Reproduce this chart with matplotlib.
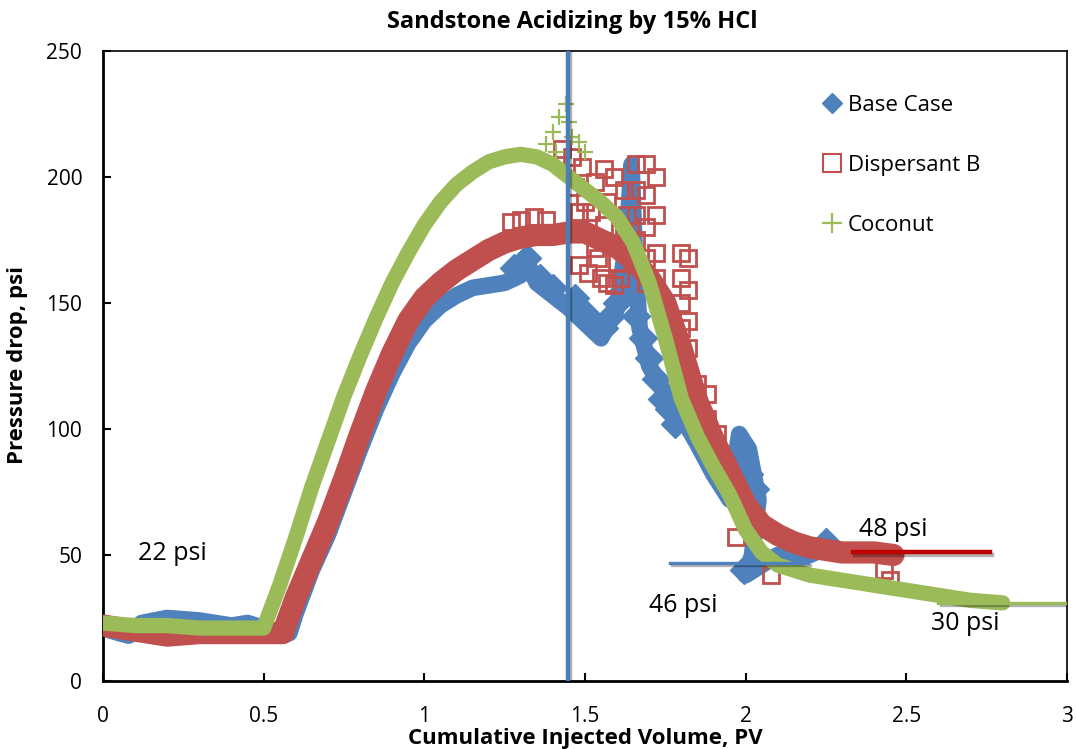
import matplotlib
matplotlib.use("Agg")
import matplotlib.pyplot as plt
import matplotlib.patheffects as pe
from matplotlib.lines import Line2D

# ---- data ----
base_x = [0.0, 0.05, 0.08, 0.12, 0.2, 0.3, 0.4, 0.45, 0.5, 0.54, 0.58, 0.6, 0.65, 0.7, 0.75,
          0.8, 0.85, 0.9, 0.95, 1.0, 1.05, 1.1, 1.15, 1.2, 1.25, 1.3, 1.32, 1.35, 1.4, 1.45,
          1.5, 1.55, 1.6, 1.63, 1.645, 1.655, 1.67, 1.7, 1.75, 1.8, 1.85, 1.9, 1.95, 1.98,
          2.01, 2.04, 2.02, 2.0, 2.05, 2.1, 2.15, 2.2, 2.25]
base_y = [21, 19, 18, 23, 25, 24, 22, 23, 21, 18, 19, 27, 44, 58, 75, 92, 108, 122, 134, 143,
          149, 153, 156, 157, 158, 161, 166, 158, 153, 148, 142, 136, 148, 175, 205, 170, 140,
          125, 114, 105, 94, 82, 72, 98, 92, 72, 50, 42, 46, 50, 49, 50, 53]

disp_x = [0.0, 0.05, 0.1, 0.2, 0.3, 0.4, 0.5, 0.56, 0.6, 0.65, 0.7, 0.75, 0.8, 0.85, 0.9,
          0.95, 1.0, 1.05, 1.1, 1.15, 1.2, 1.25, 1.3, 1.35, 1.4, 1.45, 1.5, 1.55, 1.6, 1.65,
          1.7, 1.75, 1.8, 1.85, 1.9, 1.95, 2.0, 2.05, 2.1, 2.15, 2.2, 2.3, 2.4, 2.46]
disp_y = [22, 21, 20, 18, 19, 19, 19, 19, 33, 48, 63, 80, 98, 115, 130, 143, 152, 158, 163,
          167, 171, 174, 176, 177, 177, 178, 178, 175, 172, 167, 160, 150, 132, 111, 96, 83,
          70, 62, 58, 55, 53, 51, 51, 50]

coco_x = [0.0, 0.1, 0.2, 0.3, 0.4, 0.5, 0.55, 0.6, 0.65, 0.7, 0.75, 0.8, 0.85, 0.9, 0.95,
          1.0, 1.05, 1.1, 1.15, 1.2, 1.25, 1.3, 1.35, 1.4, 1.45, 1.5, 1.55, 1.6, 1.65, 1.7,
          1.75, 1.8, 1.85, 1.9, 1.95, 2.0, 2.05, 2.1, 2.2, 2.3, 2.4, 2.5, 2.6, 2.7, 2.8]
coco_y = [23, 22, 22, 21, 21, 21, 38, 57, 77, 95, 113, 129, 144, 158, 170, 181, 190, 197,
          202, 206, 208, 209, 208, 205, 200, 195, 190, 184, 174, 158, 136, 112, 97, 85, 74,
          60, 51, 46, 42, 40, 38, 36, 34, 32, 31]

# scattered readings standing off the main bands
base_pt_x = [1.28, 1.32, 1.36, 1.40, 1.47, 1.50, 1.53, 1.56, 1.58, 1.60, 1.62, 1.66, 1.68,
             1.70, 1.72, 1.74, 1.76, 1.78, 1.99, 2.01, 2.03, 1.995, 2.25]
base_pt_y = [164, 168, 160, 156, 152, 146, 141, 140, 145, 150, 155, 145, 136, 128, 120, 112,
             108, 102, 88, 82, 76, 44, 55]
disp_sq_x = [1.27, 1.30, 1.34, 1.38, 1.43, 1.46, 1.49, 1.47, 1.48, 1.50, 1.51, 1.52, 1.53,
             1.54, 1.55, 1.56, 1.57, 1.58, 1.59, 1.60, 1.61, 1.62, 1.63, 1.48, 1.53, 1.57,
             1.56, 1.59, 1.62, 1.63, 1.66, 1.66, 1.66, 1.66, 1.69, 1.69, 1.69, 1.69, 1.69,
             1.72, 1.72, 1.72, 1.72, 1.80, 1.80, 1.80, 1.80, 1.82, 1.82, 1.82, 1.82, 1.82,
             1.85, 1.88, 1.88, 1.91, 1.97, 2.08, 2.43, 2.45]
disp_sq_y = [182, 183, 184, 183, 211, 208, 204, 196, 186, 190, 162, 186, 172, 168, 160, 181,
             158, 174, 157, 166, 160, 178, 170, 165, 198, 190, 203, 200, 195, 185, 205, 195,
             185, 175, 205, 193, 180, 168, 158, 200, 185, 170, 160, 170, 160, 150, 140, 168,
             155, 143, 132, 122, 118, 114, 104, 98, 57, 42, 44, 40]
coco_pl_x = [1.38, 1.40, 1.41, 1.42, 1.44, 1.45, 1.46, 1.48, 1.50]
coco_pl_y = [213, 218, 210, 224, 229, 222, 216, 214, 210]

# marker lines and notes on the chart
vline_x = 1.447
levels = [("46 psi", 1.765, 2.194, 47), ("48 psi", 2.334, 2.76, 51), ("30 psi", 2.6, 3.0, 31)]
notes = [("22 psi", 0.215, 50.5), ("46 psi", 1.805, 30), ("48 psi", 2.46, 60), ("30 psi", 2.683, 23)]

BLUE, RED, GREEN, DRED = "#4F81BD", "#C0504D", "#9BBB59", "#C00000"

plt.rcParams["font.family"] = ["Open Sans", "DejaVu Sans"]

fig = plt.figure(figsize=(10.76, 7.49), dpi=100)
ax = fig.add_axes([0.0957, 0.0908, 0.8959, 0.8411])

band = dict(solid_joinstyle="round", solid_capstyle="round")
ax.plot(base_x, base_y, color=BLUE, lw=12, zorder=2, **band)
ax.plot(base_pt_x, base_pt_y, ls="", marker="D", ms=14, color=BLUE, zorder=2.1)
ax.plot(disp_x, disp_y, color=RED, lw=16, zorder=3, **band)
ax.plot(disp_sq_x, disp_sq_y, ls="", marker="s", ms=11, mfc="none", mec=RED, mew=2.0, zorder=3.1)
ax.plot(coco_x, coco_y, color=GREEN, lw=11, zorder=4, **band)
ax.plot(coco_pl_x, coco_pl_y, ls="", marker="+", ms=12, mec=GREEN, mew=1.6, zorder=4.1)

shadow = [pe.SimpleLineShadow(offset=(1.5, -1.5), alpha=0.3), pe.Normal()]
ax.axvline(vline_x, color="#4A7EBB", lw=3.2, zorder=6, path_effects=shadow)
lcols = [BLUE, DRED, GREEN]
lwids = [2.4, 3.2, 2.4]
for (lab, x0, x1, y), c, w in zip(levels, lcols, lwids):
    ax.plot([x0, x1], [y, y], color=c, lw=w, zorder=5, path_effects=shadow)
for t, x, y in notes:
    ax.text(x, y, t, fontsize=18, ha="center", va="center", zorder=7)

ax.set_xlim(0, 3)
ax.set_ylim(0, 250)
ax.set_xticks([0, 0.5, 1, 1.5, 2, 2.5, 3])
ax.set_xticklabels(["0", "0.5", "1", "1.5", "2", "2.5", "3"])
ax.set_yticks(range(0, 251, 50))
ax.tick_params(direction="in", length=6, width=1.5, labelsize=15)
ax.tick_params(axis="x", pad=18)
ax.tick_params(axis="y", pad=15)
for s in ["left", "bottom"]:
    ax.spines[s].set_linewidth(2.0)
for s in ["top", "right"]:
    ax.spines[s].set_linewidth(1.2)

ax.set_xlabel("Cumulative Injected Volume, PV", fontsize=16, fontweight="bold")
ax.xaxis.set_label_coords(0.5, -0.0745)
ax.set_ylabel("Pressure drop, psi", fontsize=16, fontweight="bold")
ax.yaxis.set_label_coords(-0.078, 0.502)
ax.text(0.4865, 1.046, "Sandstone Acidizing by 15% HCl", transform=ax.transAxes,
        fontsize=17, fontweight="bold", ha="center", va="center")

handles = [Line2D([], [], ls="", marker="D", ms=10, color=BLUE),
           Line2D([], [], ls="", marker="s", ms=13, mfc="none", mec=RED, mew=1.5),
           Line2D([], [], ls="", marker="+", ms=14, mec=GREEN, mew=1.6)]
ax.legend(handles, ["Base Case", "Dispersant B", "Coconut"], loc="upper left",
          bbox_to_anchor=(0.745, 0.93), frameon=False, fontsize=16, borderpad=0,
          borderaxespad=0, handlelength=1.0, handletextpad=0.2, labelspacing=1.75)

fig.savefig("out.png", dpi=100)
